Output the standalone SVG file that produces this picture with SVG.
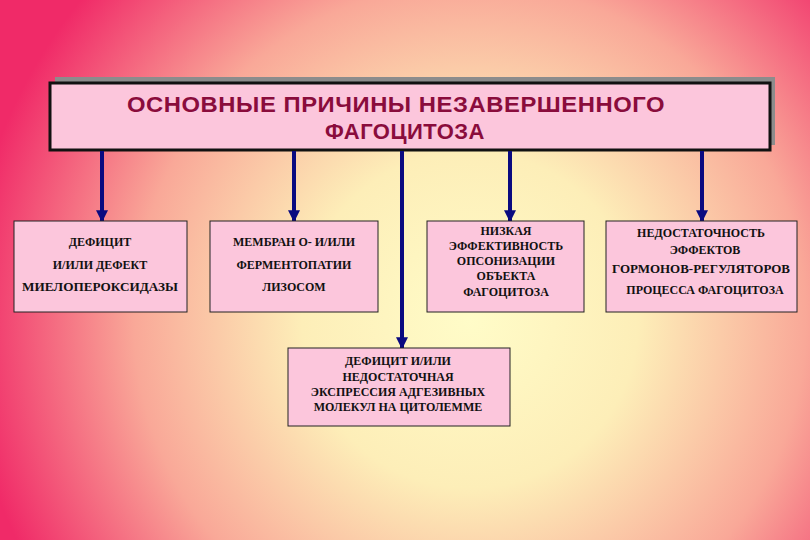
<svg xmlns="http://www.w3.org/2000/svg" width="810" height="540" viewBox="0 0 810 540">
<defs>
<radialGradient id="bg" cx="470" cy="320" r="560" gradientUnits="userSpaceOnUse">
<stop offset="0" stop-color="#fffcc8"/>
<stop offset="0.3" stop-color="#fdeeb8"/>
<stop offset="0.6" stop-color="#f9a898"/>
<stop offset="0.9" stop-color="#f02a68"/>
</radialGradient>
<marker id="ar" viewBox="0 0 10 10" refX="9" refY="5" markerWidth="3" markerHeight="3" orient="auto" markerUnits="strokeWidth">
<path d="M0,0 L10,5 L0,10 z" fill="#0a0a80"/>
</marker>
<style>
.box{fill:#fcc6dc;stroke:#222;stroke-width:1}
.t{font-weight:bold;font-size:12px;fill:#111;text-anchor:middle}
.h{font-weight:bold;font-size:22px;fill:#8a0c3c;text-anchor:middle;letter-spacing:0.5px}
.c{stroke:#0a0a80;stroke-width:4;fill:none;marker-end:url(#ar)}
</style>
</defs>
<rect width="810" height="540" fill="url(#bg)"/>
<g id="title" font-family="'Liberation Sans', Arial, sans-serif">
<rect x="55" y="77" width="720" height="68" fill="#8c8c8c"/>
<rect x="50" y="83" width="720" height="67" fill="#fcc6dc" stroke="#111" stroke-width="3"/>
<text class="h" x="396" y="112" textLength="538" lengthAdjust="spacingAndGlyphs">ОСНОВНЫЕ  ПРИЧИНЫ  НЕЗАВЕРШЕННОГО</text>
<text class="h" x="405" y="139">ФАГОЦИТОЗА</text>
</g>
<g id="connectors">
<line class="c" x1="102" y1="151" x2="102" y2="221"/>
<line class="c" x1="294" y1="151" x2="294" y2="221"/>
<line class="c" x1="402" y1="151" x2="402" y2="348"/>
<line class="c" x1="510" y1="151" x2="510" y2="221"/>
<line class="c" x1="702" y1="151" x2="702" y2="221"/>
</g>
<g font-family="'Liberation Serif', 'Times New Roman', serif">
<g id="n1">
<rect class="box" x="14" y="221" width="173" height="91"/>
<text class="t" x="100" y="246">ДЕФИЦИТ</text>
<text class="t" x="100" y="269">И/ИЛИ ДЕФЕКТ</text>
<text class="t" x="100" y="291" textLength="156" lengthAdjust="spacingAndGlyphs">МИЕЛОПЕРОКСИДАЗЫ</text>
</g>
<g id="n2">
<rect class="box" x="210" y="221" width="168" height="91"/>
<text class="t" x="294" y="246">МЕМБРАН  О-  И/ИЛИ</text>
<text class="t" x="294" y="269">ФЕРМЕНТОПАТИИ</text>
<text class="t" x="294" y="291">ЛИЗОСОМ</text>
</g>
<g id="n3">
<rect class="box" x="427" y="221" width="157" height="91"/>
<text class="t" x="506" y="235">НИЗКАЯ</text>
<text class="t" x="506" y="250">ЭФФЕКТИВНОСТЬ</text>
<text class="t" x="506" y="265">ОПСОНИЗАЦИИ</text>
<text class="t" x="506" y="280">ОБЪЕКТА</text>
<text class="t" x="506" y="296">ФАГОЦИТОЗА</text>
</g>
<g id="n4">
<rect class="box" x="606" y="221" width="191" height="91"/>
<text class="t" x="701" y="237">НЕДОСТАТОЧНОСТЬ</text>
<text class="t" x="705" y="254">ЭФФЕКТОВ</text>
<text class="t" x="701" y="273" textLength="178" lengthAdjust="spacingAndGlyphs">ГОРМОНОВ-РЕГУЛЯТОРОВ</text>
<text class="t" x="705" y="294">ПРОЦЕССА ФАГОЦИТОЗА</text>
</g>
<g id="n5">
<rect class="box" x="288" y="348" width="222" height="78"/>
<text class="t" x="398" y="365">ДЕФИЦИТ  И/ИЛИ</text>
<text class="t" x="398" y="381">НЕДОСТАТОЧНАЯ</text>
<text class="t" x="398" y="396">ЭКСПРЕССИЯ  АДГЕЗИВНЫХ</text>
<text class="t" x="398" y="411">МОЛЕКУЛ  НА  ЦИТОЛЕММЕ</text>
</g>
</g>
</svg>
